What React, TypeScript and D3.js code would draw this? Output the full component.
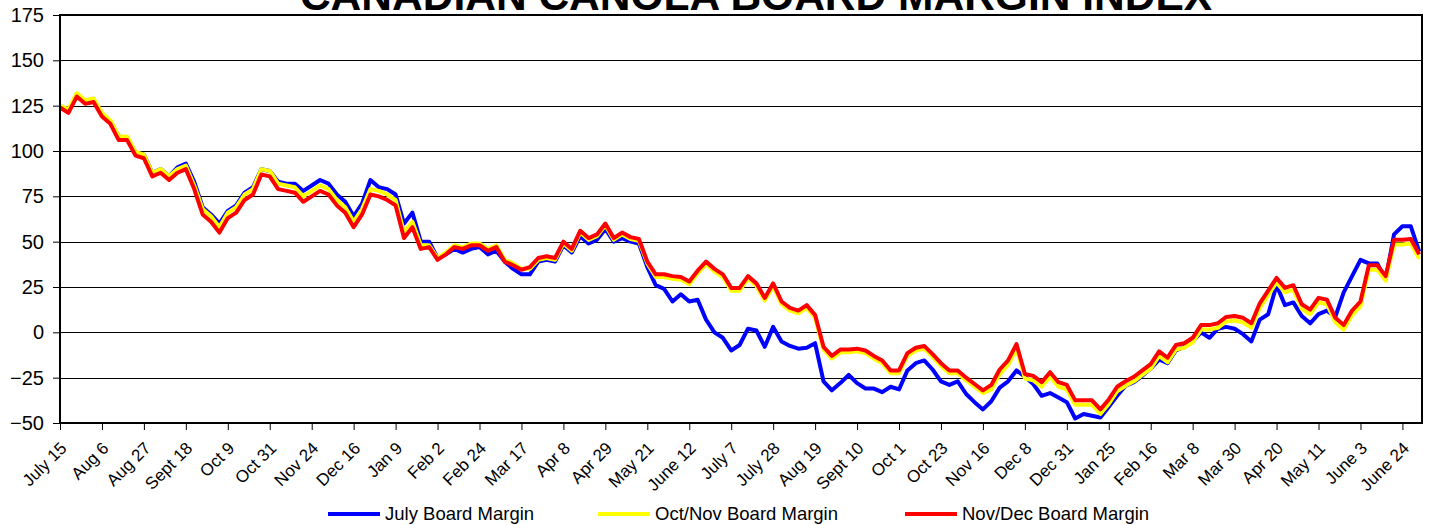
import React, { useEffect, useRef } from "react";
import * as d3 from "d3";

// one value every 3 trading days, tick label every 15 trading days
const tickLabels = [
  "July 15", "Aug 6", "Aug 27", "Sept 18", "Oct 9", "Oct 31", "Nov 24", "Dec 16",
  "Jan 9", "Feb 2", "Feb 24", "Mar 17", "Apr 8", "Apr 29", "May 21", "June 12",
  "July 7", "July 28", "Aug 19", "Sept 10", "Oct 1", "Oct 23", "Nov 16", "Dec 8",
  "Dec 31", "Jan 25", "Feb 16", "Mar 8", "Mar 30", "Apr 20", "May 11", "June 3", "June 24"
];

const yTicks = [-50, -25, 0, 25, 50, 75, 100, 125, 150, 175];

const julyMargin = [
  125, 122, 131, 127, 128, 120, 116, 108, 107, 99,
  98, 88, 90, 86, 91, 93, 83, 69, 65, 60,
  67, 70, 77, 80, 90, 89, 83, 82, 82, 78,
  81, 84, 82, 76, 72, 64, 71, 84, 80, 79,
  76, 60, 66, 50, 50, 41, 43, 46, 44, 46,
  47, 43, 45, 39, 35, 32, 32, 39, 40, 39,
  48, 44, 53, 49, 51, 57, 50, 52, 50, 49,
  36, 26, 24, 17, 21, 17, 18, 7, 0, -3,
  -10, -7, 2, 1, -8, 3, -5, -7.5, -9, -8.5,
  -6, -27, -32, -28, -23.5, -28, -31, -31, -33, -30,
  -31.5, -21, -17, -15.5, -20.5, -27, -29, -27, -34, -38.5,
  -42.5, -38, -30.5, -27, -21, -24.5, -28.5, -35, -33.5, -36,
  -38.5, -47.5, -45, -46, -47, -41, -35, -29.5, -27.5, -24,
  -20, -15, -17, -10, -8, -5, 0, -3, 2, 3,
  2, -1, -5, 7, 10, 26, 15, 16.5, 9, 5,
  10, 12, 8.5, 22, 31, 40, 38, 38, 29, 54,
  58.5, 58.5, 44.5
];

const octNovMargin = [
  125, 123, 132, 128, 129, 121, 117, 108, 108, 99.5,
  98, 88, 90, 86, 90, 92, 81, 68, 64, 58,
  66, 69, 76, 79, 90, 89, 82, 81, 80, 75,
  78, 81, 79, 73, 69, 61, 68, 79, 78, 76,
  73, 55, 61, 48, 48, 41, 44, 48, 47, 49,
  49, 46, 48, 40, 38, 35, 35, 40, 41, 40,
  49, 45, 55, 51, 53, 59, 51, 54, 51.5, 50.5,
  38, 30.5, 30.5, 29.5, 29, 26.5, 32.5, 37.5, 33.5, 30.5,
  23, 23, 29.5, 25.5, 17.5, 25.5, 15.5, 12, 10.5, 13.5,
  8, -9.5, -14.5, -11, -11, -10.5, -11.5, -14.5, -17, -22.5,
  -22.5, -13, -10, -9, -13.5, -18.5, -22.5, -22.5, -26.5, -30,
  -33.5, -31.5, -23, -18, -9, -25.5, -26.5, -30, -24.5, -30,
  -31.5, -40, -40, -40, -45, -39.5, -32.5, -29.5, -27, -23.5,
  -20, -13, -16.5, -9.5, -8.5, -5.5, 1.5, 1.5, 2.5, 6,
  6.5, 5.5, 2.5, 13.5, 20.5, 27.5, 22, 23.5, 13, 10,
  16.5, 15.5, 5.5, 1.5, 9.5, 14.5, 34.5, 34.5, 28.5, 48.5,
  48.5, 49, 40.5
];

const novDecMargin = [
  124, 121, 130, 126, 127, 119, 115, 106, 106, 97.5,
  96, 86, 88, 84, 88, 90, 79, 65, 61, 55,
  63, 66, 73, 76, 87, 86, 79, 78, 77, 72,
  75, 78, 76, 70, 66, 58, 65, 76, 75, 73,
  70, 52, 58, 46, 47, 40, 43, 47, 46, 48,
  48, 45, 47, 39, 37, 34.5, 36, 41, 42, 41,
  50, 46, 56, 52, 54, 60, 52, 55, 52.5, 51.5,
  39, 32, 32, 31, 30.5, 28, 34, 39, 35, 32,
  24.5, 24.5, 31, 27, 19, 27, 17, 13.5, 12, 15,
  9.5, -8, -13, -9.5, -9.5, -9, -10, -13, -15.5, -21,
  -21, -11.5, -8.5, -7.5, -12, -17, -21, -21, -25, -28.5,
  -32, -29, -20.5, -15.5, -6.5, -23, -24, -27.5, -22, -27.5,
  -29, -37.5, -37.5, -37.5, -42.5, -37, -30, -27, -24.5, -21,
  -17.5, -10.5, -14, -7, -6, -3, 4, 4, 5, 8.5,
  9, 8, 5, 16, 23, 30, 24.5, 26, 15.5, 12.5,
  19, 18, 8, 4, 12, 17, 37, 37, 31, 51,
  51, 51.5, 43
];

const series = [
  { name: "July Board Margin", color: "#0000ff", values: julyMargin },
  { name: "Oct/Nov Board Margin", color: "#ffff00", values: octNovMargin },
  { name: "Nov/Dec Board Margin", color: "#ff0000", values: novDecMargin }
];

const DAY_STEP = 3;
const TICK_STEP = 15;
const LAST_DAY = 487;
const FONT = "'Liberation Sans', Arial, sans-serif";

const App = () => {
  const svgRef = useRef<SVGSVGElement>(null);

  useEffect(() => {
    const svg = d3.select(svgRef.current);
    svg.selectAll("*").remove();
    const width = 1430;
    const height = 525;
    const margin = { top: 15, right: 8, bottom: 102, left: 60 };

    const x = d3.scaleLinear().domain([0, LAST_DAY]).range([margin.left, width - margin.right]);
    const y = d3.scaleLinear().domain([-50, 175]).range([height - margin.bottom, margin.top]);

    svg
      .append("text")
      .attr("x", 756)
      .attr("y", 10)
      .attr("text-anchor", "middle")
      .attr("font-family", FONT)
      .attr("font-weight", "bold")
      .attr("font-size", 42.5)
      .text("CANADIAN CANOLA BOARD MARGIN INDEX");

    // gridlines
    svg
      .append("g")
      .selectAll("line")
      .data(yTicks.slice(1, -1))
      .join("line")
      .attr("x1", margin.left)
      .attr("x2", width - margin.right)
      .attr("y1", (d) => Math.round(y(d)) + 0.5)
      .attr("y2", (d) => Math.round(y(d)) + 0.5)
      .attr("stroke", "#000")
      .attr("stroke-width", 1);

    const line = d3
      .line<number>()
      .x((_, i) => x(i * DAY_STEP))
      .y((d) => y(d));

    svg
      .append("g")
      .selectAll("path")
      .data(series)
      .join("path")
      .attr("d", (s) => line(s.values))
      .attr("fill", "none")
      .attr("stroke", (s) => s.color)
      .attr("stroke-width", 4)
      .attr("stroke-linejoin", "round");

    // frame
    svg
      .append("rect")
      .attr("x", margin.left)
      .attr("y", margin.top)
      .attr("width", width - margin.right - margin.left)
      .attr("height", height - margin.bottom - margin.top)
      .attr("fill", "none")
      .attr("stroke", "#000")
      .attr("stroke-width", 2);

    const yAxis = svg
      .append("g")
      .attr("transform", `translate(${margin.left},0)`)
      .call(d3.axisLeft(y).tickValues(yTicks).tickSize(7).tickPadding(9));
    yAxis.select(".domain").remove();
    yAxis.selectAll("line").attr("stroke", "#000");
    yAxis
      .selectAll("text")
      .attr("font-family", FONT)
      .attr("font-size", 20)
      .attr("fill", "#000");

    const xTicks = d3.range(0, tickLabels.length * TICK_STEP, TICK_STEP);
    const xAxis = svg
      .append("g")
      .attr("transform", `translate(0,${height - margin.bottom})`)
      .call(
        d3
          .axisBottom(x)
          .tickValues(xTicks)
          .tickFormat((_, i) => tickLabels[i])
          .tickSize(7)
      );
    xAxis.select(".domain").remove();
    xAxis.selectAll("line").attr("stroke", "#000");
    xAxis
      .selectAll("text")
      .attr("font-family", FONT)
      .attr("font-size", 17)
      .attr("fill", "#000")
      .attr("text-anchor", "end")
      .attr("x", 0)
      .attr("y", 0)
      .attr("dy", "0.35em")
      .attr("transform", "translate(3,22) rotate(-45)");

    // legend
    const legendX = [328, 598, 905];
    const legend = svg
      .append("g")
      .selectAll("g")
      .data(series)
      .join("g")
      .attr("transform", (_, i) => `translate(${legendX[i]},514)`);
    legend
      .append("line")
      .attr("x1", 0)
      .attr("x2", 52)
      .attr("stroke", (s) => s.color)
      .attr("stroke-width", 4);
    legend
      .append("text")
      .attr("x", 57)
      .attr("dy", "0.35em")
      .attr("font-family", FONT)
      .attr("font-size", 18.5)
      .text((s) => s.name);
  }, []);

  return (
    <svg
      ref={svgRef}
      width={1430}
      height={525}
      style={{ position: "absolute", left: 0, top: 0, background: "#fff" }}
    ></svg>
  );
};

export default App;
